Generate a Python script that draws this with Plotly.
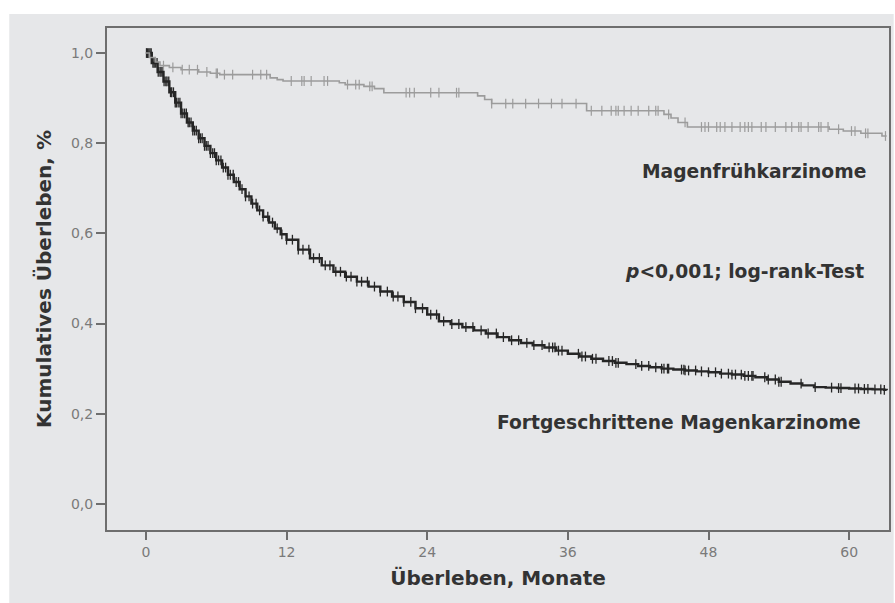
import numpy as np
import plotly.graph_objects as go

# Kaplan-Meier estimates (months, cumulative survival)
early_t = [0, 0.3, 0.8, 1.2, 2.0, 3.0, 4.5, 5.5, 6.3, 10.6, 11.2, 11.7, 16.5, 17.0,
           18.6, 19.5, 20.3, 28.3, 28.9, 29.5, 37.6, 44.2, 44.8, 45.4, 46.2, 58.3,
           59.5, 61.0, 62.8, 63.2]
early_s = [1.0, 0.99, 0.98, 0.972, 0.968, 0.963, 0.958, 0.955, 0.952, 0.945, 0.941,
           0.938, 0.934, 0.930, 0.926, 0.921, 0.912, 0.905, 0.897, 0.888, 0.872,
           0.864, 0.856, 0.846, 0.836, 0.831, 0.827, 0.822, 0.816, 0.816]
early_censored = [1.5, 2.3, 3.1, 3.7, 4.4, 5.2, 6.0, 6.1, 6.7, 7.4, 9.1, 9.8, 10.3,
                  12.4, 13.3, 13.5, 14.1, 15.2, 15.5, 17.2, 17.9, 18.2, 19.1, 19.3,
                  22.2, 22.5, 22.9, 24.3, 25.0, 26.5, 26.7, 29.5, 30.7, 31.3, 32.4,
                  33.5, 34.6, 35.5, 36.7, 38.0, 38.9, 39.7, 40.1, 40.3, 40.8, 41.4,
                  42.0, 42.9, 43.5, 43.7, 44.6, 46.0, 47.4, 47.7, 48.0, 48.7, 49.0,
                  49.4, 50.0, 50.7, 51.1, 51.4, 51.7, 52.5, 52.9, 53.7, 54.6, 55.1,
                  55.7, 55.9, 56.5, 57.4, 57.6, 58.2, 59.1, 60.2, 60.5, 61.4, 61.6,
                  63.1]

adv_t = [0, 0.5, 1, 1.5, 2, 2.5, 3, 3.5, 4, 4.5, 5, 5.5, 6, 6.5, 7, 7.5, 8, 8.5, 9,
         9.5, 10, 10.5, 11, 11.5, 12, 13, 14, 15, 16, 17, 18, 19, 20, 21, 22, 23, 24,
         25, 26, 27, 28, 29, 30, 31, 32, 33, 34, 35, 36, 37, 38, 39, 40, 41, 42, 43,
         44, 45, 46, 47, 48, 49, 50, 51, 52, 53, 54, 55, 56, 57, 58, 59, 60, 61, 62,
         63, 63.2]
adv_s = [1.0, 0.978, 0.958, 0.937, 0.913, 0.890, 0.866, 0.846, 0.828, 0.811, 0.794,
         0.778, 0.762, 0.746, 0.730, 0.714, 0.698, 0.682, 0.666, 0.651, 0.637, 0.624,
         0.611, 0.598, 0.586, 0.564, 0.545, 0.529, 0.515, 0.504, 0.493, 0.482, 0.471,
         0.460, 0.448, 0.434, 0.420, 0.405, 0.399, 0.392, 0.385, 0.378, 0.370, 0.363,
         0.357, 0.352, 0.347, 0.340, 0.333, 0.327, 0.322, 0.317, 0.313, 0.310, 0.306,
         0.303, 0.300, 0.298, 0.296, 0.294, 0.292, 0.289, 0.287, 0.284, 0.281, 0.276,
         0.271, 0.267, 0.263, 0.259, 0.258, 0.257, 0.256, 0.255, 0.254, 0.253, 0.252]
adv_censored = [0.05, 0.15, 0.25, 0.35, 0.45, 0.6, 0.7, 0.8, 0.95, 1.05, 1.2, 1.3, 1.45,
                1.55, 1.7, 1.8, 1.95, 2.1, 2.2, 2.35, 2.5, 2.6, 2.75, 2.9, 3.0, 3.15,
                3.3, 3.45, 3.6, 3.7, 3.85, 4.0, 4.15, 4.3, 4.5, 4.65, 4.8, 5.0, 5.15,
                5.3, 5.5, 5.7, 5.85, 6.0, 6.2, 6.4, 6.6, 6.8, 7.0, 7.2, 7.45, 7.7, 7.9,
                8.2, 8.5, 8.8, 9.1, 9.4, 9.7, 10.0, 10.4, 10.8, 11.2, 11.6, 12.0, 12.5,
                13.0, 13.4, 13.9, 14.3, 14.8, 15.3, 15.7, 16.2, 16.6, 17.1, 17.5, 18.0,
                18.4, 18.9, 19.5, 20.0, 20.6, 21.1, 21.5, 22.0, 22.6, 23.0, 23.6, 24.3,
                24.8, 25.4, 26.1, 26.7, 27.3, 27.9, 28.6, 29.2, 29.9, 30.5, 31.2, 31.8,
                32.5, 33.1, 33.8, 34.4, 34.7, 34.9, 35.2, 35.5, 36.9, 37.2, 37.5, 38.1,
                38.4, 39.5, 39.8, 40.1, 40.3, 41.8, 42.3, 42.9, 43.5, 44.0, 44.2, 44.5,
                44.6, 45.7, 45.9, 46.0, 46.3, 46.9, 47.4, 48.0, 48.6, 49.1, 49.7, 50.0,
                50.3, 50.8, 51.1, 51.4, 51.7, 51.8, 52.8, 53.1, 53.7, 54.0, 54.2, 55.9,
                57.1, 58.5, 59.1, 59.3, 60.5, 60.8, 61.3, 61.6, 62.2, 62.7, 63.0]

x_ticks = [0, 12, 24, 36, 48, 60]
y_ticks = [0.0, 0.2, 0.4, 0.6, 0.8, 1.0]
y_ticktext = ["0,0", "0,2", "0,4", "0,6", "0,8", "1,0"]

EARLY_COLOR = "#9c9c9c"
ADV_COLOR = "#262626"
PANEL = "#e6e7e9"
FONT = "DejaVu Sans"


def step_value(times, surv, at):
    """Survival of a right-continuous step function at the given times."""
    idx = np.searchsorted(np.asarray(times), np.asarray(at), side="right") - 1
    return np.asarray(surv)[np.clip(idx, 0, len(surv) - 1)]


fig = go.Figure()

for t, s, cens, color, width, tick_w in [
    (adv_t, adv_s, adv_censored, ADV_COLOR, 2.4, 1.3),
    (early_t, early_s, early_censored, EARLY_COLOR, 1.6, 1.2),
]:
    fig.add_trace(go.Scatter(
        x=t, y=s, mode="lines", line=dict(color=color, width=width, shape="hv"),
        hoverinfo="skip", showlegend=False))
    fig.add_trace(go.Scatter(
        x=cens, y=step_value(t, s, cens), mode="markers",
        marker=dict(symbol="line-ns", size=7, line=dict(color=color, width=tick_w)),
        hoverinfo="skip", showlegend=False))

# grey panel behind the whole chart
fig.add_shape(type="rect", xref="paper", yref="paper",
              x0=-0.125, x1=1.006, y0=-0.146, y1=1.028,
              fillcolor=PANEL, line=dict(width=0), layer="below")

label_font = dict(family=FONT, size=18.7, color="#333333")
fig.add_annotation(x=61.6, y=0.738, text="<b>Magenfrühkarzinome</b>",
                   showarrow=False, xanchor="right", yanchor="middle", font=label_font)
fig.add_annotation(x=61.4, y=0.516, text="<b><i>p</i>&lt;0,001; log-rank-Test</b>",
                   showarrow=False, xanchor="right", yanchor="middle", font=label_font)
fig.add_annotation(x=61.2, y=0.18, text="<b>Fortgeschrittene Magenkarzinome</b>",
                   showarrow=False, xanchor="right", yanchor="middle", font=label_font)

axis_common = dict(
    showgrid=False, zeroline=False, showline=True, mirror=True,
    linecolor="#6e6e6e", linewidth=2, ticks="outside", tickcolor="#6e6e6e",
    tickwidth=2, tickfont=dict(family=FONT, size=14, color="#7a7a7a"),
)

fig.update_xaxes(
    range=[-3.32, 63.4], tickvals=x_ticks, ticklen=8,
    title=dict(text="<b>Überleben, Monate</b>", standoff=12,
               font=dict(family=FONT, size=20, color="#333333")),
    **axis_common)
fig.update_yaxes(
    range=[-0.0578, 1.0555], tickvals=y_ticks, ticktext=y_ticktext, ticklen=9,
    title=dict(text="<b>Kumulatives Überleben, %</b>", standoff=14,
               font=dict(family=FONT, size=20, color="#333333")),
    **axis_common)

fig.update_layout(
    width=895, height=603,
    margin=dict(l=107, r=4, t=28, b=73),
    paper_bgcolor="white", plot_bgcolor=PANEL,
    showlegend=False,
)

fig.write_html("out.html")
